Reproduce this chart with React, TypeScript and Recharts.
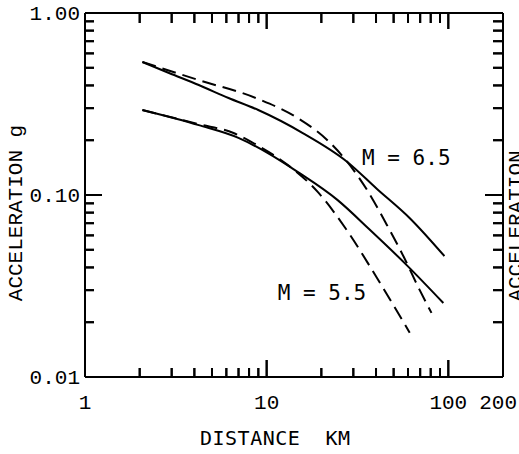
import React from 'react';
import { LineChart, Line, XAxis, YAxis, ReferenceDot, ReferenceLine } from 'recharts';

// ---- data ----
const m65SolidDist = [2.07, 2.9, 4.23, 6.17, 8.99, 15.8, 27.8, 40.5, 61.2, 95.1];
const m65SolidAcc = [0.538, 0.468, 0.402, 0.341, 0.293, 0.219, 0.152, 0.108, 0.0748, 0.0462];

const m65DashDist = [2.07, 4.23, 8.99, 14.8, 21.6, 27.8, 35.7, 45.9, 56.9, 69.5, 80.8];
const m65DashAcc = [0.538, 0.428, 0.337, 0.265, 0.2, 0.152, 0.1066, 0.0685, 0.0456, 0.0301, 0.0225];

const m55SolidDist = [2.07, 4.23, 6.99, 9.94, 14.8, 24.5, 37.1, 59, 93.9];
const m55SolidAcc = [0.293, 0.242, 0.206, 0.172, 0.134, 0.094, 0.0642, 0.0412, 0.0255];

const m55DashDist = [2.07, 4.23, 6.57, 8.99, 13.1, 19.1, 27.1, 40.5, 61.3];
const m55DashAcc = [0.293, 0.245, 0.219, 0.186, 0.146, 0.104, 0.0659, 0.035, 0.0175];

const xTicks = [1, 2, 3, 4, 5, 6, 7, 8, 9, 10, 20, 30, 40, 50, 60, 70, 80, 90, 100, 200];
const xTickLabels: Record<number, string> = { 1: '1', 10: '10', 100: '100', 200: '200' };
const yTicks = [0.01, 0.02, 0.03, 0.04, 0.05, 0.06, 0.07, 0.08, 0.09, 0.1, 0.2, 0.3, 0.4, 0.5, 0.6, 0.7, 0.8, 0.9, 1];
const yTickLabels: Record<number, string> = { 0.01: '0.01', 0.1: '0.10', 1: '1.00' };

const curveLabels = [
  { text: 'M = 6.5', d: 33.5, a: 0.16 },
  { text: 'M = 5.5', d: 11.5, a: 0.029 },
];

const toRows = (ds: number[], as: number[]) => ds.map((d, i) => ({ d, a: as[i] }));
const m65Solid = toRows(m65SolidDist, m65SolidAcc);
const m65Dash = toRows(m65DashDist, m65DashAcc);
const m55Solid = toRows(m55SolidDist, m55SolidAcc);
const m55Dash = toRows(m55DashDist, m55DashAcc);

// ---- layout ----
const W = 519;
const H = 454;
const MT = 13;
const MR = 16;
const YW = 85;
const XH = 77;
const PLOT_W = W - MR - YW;
const PLOT_H = H - MT - XH;

const MONO_SERIF = '"Liberation Mono", "Courier New", monospace';
const MONO_SANS = '"DejaVu Sans Mono", monospace';

const isMajorX = (v: number) => v === 10 || v === 100;
const isMajorY = (v: number) => v === 0.1;
const TW = 2;

const bottomTick = (props: any) => {
  const { x, y, payload } = props;
  const v = payload.value;
  const label = xTickLabels[v] || '';
  const last = v === 200;
  const edge = v === 1 || v === 200;
  const lb = edge ? 0 : isMajorX(v) ? 17 : 9;
  const lt = edge ? 0 : isMajorX(v) ? 16 : 10;
  const top = y - PLOT_H;
  return (
    <g>
      <rect x={x - TW / 2} y={y - lb} width={TW} height={lb} fill="#000" />
      <rect x={x - TW / 2} y={top} width={TW} height={lt} fill="#000" />
      <line x1={x} y1={y} x2={x} y2={y - lb} stroke="#000" strokeWidth={TW} />
      <line x1={x} y1={top} x2={x} y2={top + lt} stroke="#000" strokeWidth={TW} />
      <text x={last ? x + 14 : x} y={y + 32} textAnchor={last ? 'end' : 'middle'} fontFamily={MONO_SERIF} fontSize={21} fill="#000">
        {label}
      </text>
      {v === 1 && (
        <text x={x + 115} y={y + 68} textAnchor="start" fontFamily={MONO_SANS} fontSize={20} letterSpacing={0.5} fill="#000" style={{ whiteSpace: 'pre' }}>
          {'DISTANCE  KM'}
        </text>
      )}
    </g>
  );
};

const leftTick = (props: any) => {
  const { x, y, payload } = props;
  const v = payload.value;
  const label = yTickLabels[v] || '';
  const edge = v === 1 || v === 0.01;
  const ll = edge ? 0 : isMajorY(v) ? 17 : 9;
  const lr = edge ? 0 : isMajorY(v) ? 18 : 10;
  const right = x + PLOT_W;
  return (
    <g>
      <rect x={x} y={y - TW / 2} width={ll} height={TW} fill="#000" />
      <rect x={right - lr} y={y - TW / 2} width={lr} height={TW} fill="#000" />
      <line x1={x} y1={y} x2={x + ll} y2={y} stroke="#000" strokeWidth={TW} />
      <line x1={right} y1={y} x2={right - lr} y2={y} stroke="#000" strokeWidth={TW} />
      <text x={x - 5} y={y + 7} textAnchor="end" fontFamily={MONO_SERIF} fontSize={21} fill="#000">
        {label}
      </text>
      {v === 1 && (
        <text transform={`translate(22,${y + 200}) rotate(-90)`} textAnchor="middle" fontFamily={MONO_SERIF} fontSize={21} fill="#000">
          ACCELERATION g
        </text>
      )}
      {v === 1 && (
        <text transform={`translate(522,${y + 213}) rotate(-90)`} textAnchor="middle" fontFamily={MONO_SERIF} fontSize={21} fill="#000">
          ACCELERATION
        </text>
      )}
    </g>
  );
};

const CurveLabel = (text: string) => (props: any) => {
  const vb = props.viewBox || {};
  return (
    <text x={vb.x} y={vb.y + 7} textAnchor="start" fontFamily={MONO_SANS} fontSize={21} fill="#000">
      {text}
    </text>
  );
};

export default function App() {
  const axisLine = { stroke: '#000', strokeWidth: 2 };
  return (
    <div style={{ position: 'absolute', left: 0, top: 0, width: W, height: H, background: '#fff' }}>
      <LineChart width={W} height={H} margin={{ top: MT, right: MR, bottom: 0, left: 0 }}>
        <XAxis
          dataKey="d"
          type="number"
          scale="log"
          domain={[1, 200]}
          allowDataOverflow
          ticks={xTicks}
          interval={0}
          tickSize={0}
          tickMargin={0}
          tickLine={false}
          axisLine={axisLine}
          tick={bottomTick}
          height={XH}
        />
        <YAxis
          dataKey="a"
          type="number"
          scale="log"
          domain={[0.01, 1]}
          allowDataOverflow
          ticks={yTicks}
          interval={0}
          tickSize={0}
          tickMargin={0}
          tickLine={false}
          axisLine={axisLine}
          tick={leftTick}
          width={YW}
        />
        <ReferenceLine y={1} stroke="#000" strokeWidth={2} />
        <ReferenceLine x={200} stroke="#000" strokeWidth={2} />
        <Line data={m65Solid} dataKey="a" type="monotone" stroke="#000" strokeWidth={2} dot={false} isAnimationActive={false} />
        <Line data={m65Dash} dataKey="a" type="monotone" stroke="#000" strokeWidth={2} strokeDasharray="14 7" dot={false} isAnimationActive={false} />
        <Line data={m55Solid} dataKey="a" type="monotone" stroke="#000" strokeWidth={2} dot={false} isAnimationActive={false} />
        <Line data={m55Dash} dataKey="a" type="monotone" stroke="#000" strokeWidth={2} strokeDasharray="14 7" dot={false} isAnimationActive={false} />
        {curveLabels.map((c) => (
          <ReferenceDot key={c.text} x={c.d} y={c.a} r={0} fill="none" stroke="none" label={CurveLabel(c.text)} />
        ))}
      </LineChart>
    </div>
  );
}
